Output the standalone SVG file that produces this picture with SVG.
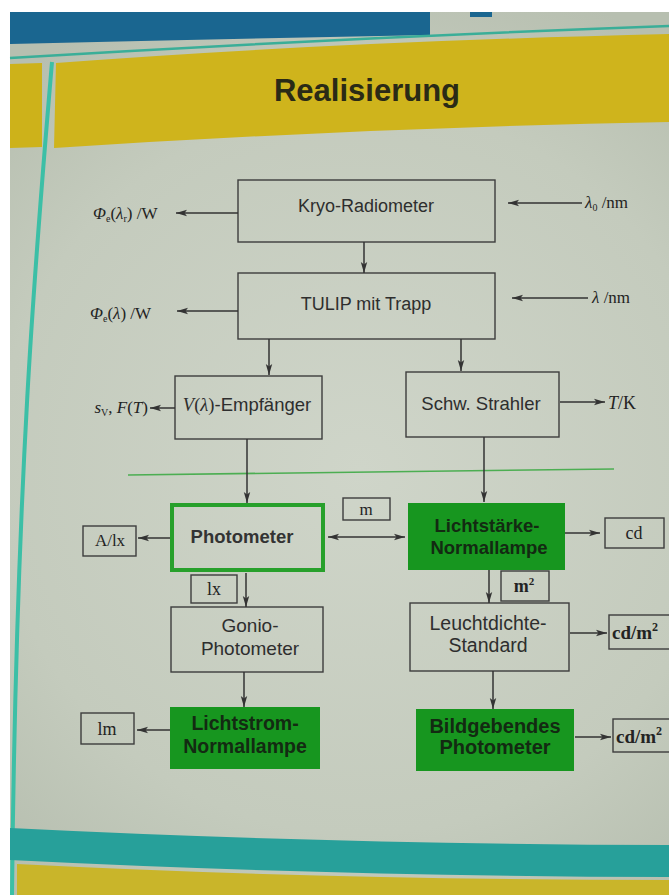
<svg xmlns="http://www.w3.org/2000/svg" width="669" height="895" viewBox="0 0 669 895">
<defs>
<radialGradient id="bg" cx="360" cy="470" r="520" gradientUnits="userSpaceOnUse">
<stop offset="0" stop-color="#cfd5c9"/>
<stop offset="0.7" stop-color="#c4cbbd"/>
<stop offset="1" stop-color="#b7bfb0"/>
</radialGradient>
<marker id="ah" markerWidth="11" markerHeight="8" refX="11" refY="4" orient="auto-start-reverse" markerUnits="userSpaceOnUse">
<path d="M0,0.8 L11,4 L0,7.2 L2.5,4 z" fill="#333"/>
</marker>
<style>
.box{fill:none;stroke:#3d3d3d;stroke-width:1.4}
.gbox{fill:#17961f}
.t{font-family:"Liberation Sans",Arial,sans-serif;font-size:18px;fill:#2e2e2e;text-anchor:middle}
.b{font-weight:bold}
.gt{fill:#132a12}
.s{font-family:"Liberation Serif","Times New Roman",serif;font-size:17px;fill:#232323}
.c{text-anchor:middle}
.i{font-style:italic}
#connectors line{stroke:#333;stroke-width:1.5;marker-end:url(#ah)}
</style>
</defs>

<!-- background / poster -->
<rect x="0" y="0" width="669" height="895" fill="#ffffff"/>
<rect x="10" y="12" width="659" height="883" fill="url(#bg)"/>
<path d="M10,12 L430,12 L430,35 Q220,39 10,44 z" fill="#1a6690"/>
<rect x="470" y="12" width="22" height="5" fill="#1a6690"/>
<path d="M10,58 Q340,38 669,26" fill="none" stroke="#3aae98" stroke-width="2.5"/>
<path d="M10,64 L42,63 L42,147 L10,148 z" fill="#cdb21a"/>
<path d="M56,63 Q330,42 669,34 L669,122 Q360,128 54,148 z" fill="#cfb41c"/>
<path d="M52,62 C36,250 16,480 12,895" fill="none" stroke="#3cbfa6" stroke-width="4"/>
<path d="M10,828 Q330,844 669,845 L669,877 Q330,876 10,860 z" fill="#27a09a"/>
<path d="M17,864 Q330,880 669,880 L669,895 L17,895 z" fill="#c9b52a"/>
<text x="367" y="101" class="t b" style="font-size:31px;fill:#2a2a16">Realisierung</text>

<!-- divider -->
<line x1="128" y1="475" x2="614" y2="469" stroke="#4cae52" stroke-width="1.6"/>

<!-- nodes -->
<g id="kryo">
<rect class="box" x="238" y="180" width="257" height="62"/>
<text class="t" x="366" y="212">Kryo-Radiometer</text>
</g>
<g id="tulip">
<rect class="box" x="238" y="273" width="257" height="66"/>
<text class="t" x="366" y="310">TULIP mit Trapp</text>
</g>
<g id="vempf">
<rect class="box" x="175" y="376" width="147" height="63"/>
<text class="t" x="247" y="411" style="font-size:18.5px"><tspan class="i" style="font-family:'Liberation Serif','Times New Roman',serif">V</tspan><tspan style="font-family:'Liberation Serif','Times New Roman',serif">(<tspan class="i">λ</tspan>)</tspan>-Empfänger</text>
</g>
<g id="schw">
<rect class="box" x="406" y="372" width="153" height="65"/>
<text class="t" x="481" y="410" style="font-size:18.5px">Schw. Strahler</text>
</g>
<g id="photometer">
<rect x="172" y="505" width="151" height="65" fill="none" stroke="#27a02b" stroke-width="4"/>
<text class="t b" x="242" y="543" style="font-size:18.5px;fill:#333">Photometer</text>
</g>
<g id="lichtstaerke">
<rect class="gbox" x="408" y="503" width="157" height="67"/>
<text class="t b gt" x="487" y="532" style="font-size:18.5px">Lichtstärke-</text>
<text class="t b gt" x="489" y="554" style="font-size:18.5px">Normallampe</text>
</g>
<g id="gonio">
<rect class="box" x="171" y="607" width="152" height="65"/>
<text class="t" x="250" y="632" style="font-size:19px">Gonio-</text>
<text class="t" x="250" y="655" style="font-size:19px">Photometer</text>
</g>
<g id="leuchtdichte">
<rect class="box" x="410" y="603" width="159" height="68"/>
<text class="t" x="488" y="630" style="font-size:19.5px">Leuchtdichte-</text>
<text class="t" x="488" y="652" style="font-size:19.5px">Standard</text>
</g>
<g id="lichtstrom">
<rect class="gbox" x="170" y="707" width="150" height="62"/>
<text class="t b gt" x="245" y="730" style="font-size:19.5px">Lichtstrom-</text>
<text class="t b gt" x="245" y="753" style="font-size:19.5px">Normallampe</text>
</g>
<g id="bildgebend">
<rect class="gbox" x="416" y="709" width="158" height="62"/>
<text class="t b gt" x="495" y="733" style="font-size:20px">Bildgebendes</text>
<text class="t b gt" x="495" y="754" style="font-size:20px">Photometer</text>
</g>

<!-- unit boxes -->
<g id="u-m">
<rect class="box" x="343" y="498" width="47" height="22"/>
<text class="s c" x="366" y="515">m</text>
</g>
<g id="u-alx">
<rect class="box" x="83" y="526" width="53" height="30"/>
<text class="s c" x="110" y="546">A/lx</text>
</g>
<g id="u-cd">
<rect class="box" x="605" y="518" width="59" height="30"/>
<text class="s c" x="634" y="539" style="font-size:18px">cd</text>
</g>
<g id="u-lx">
<rect class="box" x="191" y="575" width="46" height="28"/>
<text class="s c" x="214" y="595" style="font-size:18px">lx</text>
</g>
<g id="u-m2">
<rect class="box" x="501" y="571" width="48" height="30"/>
<text class="s c b" x="524" y="592" style="font-size:18px">m<tspan dy="-7" style="font-size:11px">2</tspan></text>
</g>
<g id="u-lm">
<rect class="box" x="81" y="713" width="53" height="31"/>
<text class="s c" x="107" y="735" style="font-size:18px">lm</text>
</g>
<g id="u-cdm2a">
<rect class="box" x="609" y="615" width="64" height="34"/>
<text class="s b" x="612" y="639" style="font-size:19px">cd/m<tspan dy="-8" style="font-size:12px">2</tspan></text>
</g>
<g id="u-cdm2b">
<rect class="box" x="613" y="719" width="62" height="33"/>
<text class="s b" x="616" y="743" style="font-size:19px">cd/m<tspan dy="-8" style="font-size:12px">2</tspan></text>
</g>

<!-- free labels -->
<g id="labels">
<text class="s" x="93" y="219"><tspan class="i">Φ</tspan><tspan dy="3" style="font-size:10px">e</tspan><tspan dy="-3">(</tspan><tspan class="i">λ</tspan><tspan dy="3" style="font-size:10px">r</tspan><tspan dy="-3">) /W</tspan></text>
<text class="s" x="90" y="319"><tspan class="i">Φ</tspan><tspan dy="3" style="font-size:10px">e</tspan><tspan dy="-3">(</tspan><tspan class="i">λ</tspan><tspan>) /W</tspan></text>
<text class="s" x="585" y="208"><tspan class="i">λ</tspan><tspan dy="3" style="font-size:10px">0</tspan><tspan dy="-3"> /nm</tspan></text>
<text class="s" x="592" y="303"><tspan class="i">λ</tspan> /nm</text>
<text class="s" x="148" y="413" text-anchor="end"><tspan class="i">s</tspan><tspan dy="3" style="font-size:10px">V</tspan><tspan dy="-3">, </tspan><tspan class="i">F</tspan>(<tspan class="i">T</tspan>)</text>
<text class="s" x="608" y="409" style="font-size:18px"><tspan class="i">T</tspan>/K</text>
</g>

<!-- connectors -->
<g id="connectors">
<line x1="238" y1="213" x2="176" y2="213"/>
<line x1="582" y1="203" x2="508" y2="203"/>
<line x1="364" y1="242" x2="364" y2="273"/>
<line x1="238" y1="311" x2="177" y2="311"/>
<line x1="588" y1="298" x2="512" y2="298"/>
<line x1="269" y1="339" x2="269" y2="375"/>
<line x1="461" y1="339" x2="461" y2="371"/>
<line x1="175" y1="408" x2="150" y2="408"/>
<line x1="560" y1="402" x2="605" y2="402"/>
<line x1="247" y1="439" x2="247" y2="503"/>
<line x1="484" y1="437" x2="484" y2="502"/>
<line x1="170" y1="538" x2="138" y2="538"/>
<line x1="328" y1="537" x2="405" y2="537" style="marker-start:url(#ah)"/>
<line x1="565" y1="533" x2="600" y2="533"/>
<line x1="246" y1="573" x2="246" y2="607"/>
<line x1="489" y1="570" x2="489" y2="603"/>
<line x1="244" y1="672" x2="244" y2="707"/>
<line x1="170" y1="730" x2="137" y2="730"/>
<line x1="570" y1="633" x2="607" y2="633"/>
<line x1="493" y1="671" x2="493" y2="709"/>
<line x1="575" y1="737" x2="611" y2="737"/>
</g>
</svg>
